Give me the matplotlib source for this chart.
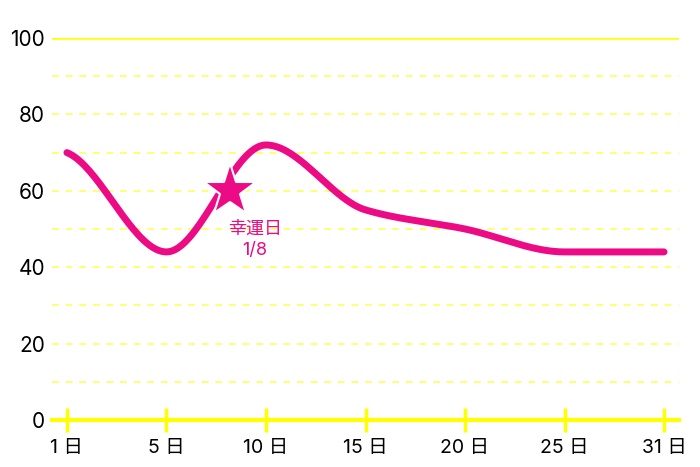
import numpy as np
import matplotlib
matplotlib.use("Agg")
import matplotlib.pyplot as plt

plt.rcParams['font.family'] = ['Inter', 'Noto Sans CJK JP', 'DejaVu Sans']

days = ["1 日", "5 日", "10 日", "15 日", "20 日", "25 日", "31 日"]
values = [70, 44, 72, 55, 50, 44, 44]
lucky_pos = 1.64   # 8日 between 5日 and 10日
lucky_value = 60
lucky_label = "幸運日\n1/8"

PINK = "#ec0a85"
YELLOW = "#ffff00"
GRID = "#ffff70"


def monotone(x, y, n=40):
    # Fritsch-Carlson monotone cubic, only for drawing the smooth line
    x = np.asarray(x, float)
    y = np.asarray(y, float)
    h = np.diff(x)
    d = np.diff(y) / h
    m = np.zeros_like(y)
    m[0], m[-1] = d[0] * 0.4, d[-1]
    for i in range(1, len(y) - 1):
        if d[i - 1] * d[i] <= 0:
            m[i] = 0
        else:
            m[i] = 3 * (h[i - 1] + h[i]) / ((2 * h[i] + h[i - 1]) / d[i - 1] + (h[i] + 2 * h[i - 1]) / d[i])
    xs, ys = [], []
    for i in range(len(x) - 1):
        t = np.linspace(0, 1, n)
        h00 = 2 * t**3 - 3 * t**2 + 1
        h10 = t**3 - 2 * t**2 + t
        h01 = -2 * t**3 + 3 * t**2
        h11 = t**3 - t**2
        xs.append(x[i] + t * h[i])
        ys.append(h00 * y[i] + h10 * h[i] * m[i] + h01 * y[i + 1] + h11 * h[i] * m[i + 1])
    return np.concatenate(xs), np.concatenate(ys)


fig = plt.figure(figsize=(7, 4.67), dpi=100)
ax = fig.add_axes([52 / 700, 1 - 420 / 467, (679 - 52) / 700, (420 - 38) / 467])

xpos = np.arange(len(days))
ax.set_xlim(-0.15, len(days) - 1 + 0.15)
ax.set_ylim(0, 100)

for v in range(10, 100, 10):
    ax.axhline(v, color=GRID, lw=1.4, ls=(0, (3.5, 3.5)), zorder=1)
ax.axhline(100, color=YELLOW, lw=1.8, zorder=1)

sx, sy = monotone(xpos, values)
ax.plot(sx, sy, color=PINK, lw=5, solid_capstyle='round', zorder=3)

ax.plot([lucky_pos], [lucky_value], marker='*', ms=40, color=PINK,
        mec='white', mew=1.5, zorder=4)
ax.text(lucky_pos + 0.25, lucky_value - 12.8, lucky_label, color=PINK,
        fontsize=13, ha='center', va='center', linespacing=1.3, zorder=4)

for s in ['top', 'right', 'left']:
    ax.spines[s].set_visible(False)
ax.spines['bottom'].set_color(YELLOW)
ax.spines['bottom'].set_linewidth(3)
ax.spines['bottom'].set_zorder(2)

ax.set_xticks(xpos)
ax.set_xticklabels(days, fontsize=14)
ax.tick_params(axis='x', direction='inout', length=17, width=2.5, color=YELLOW, pad=5)
ax.set_yticks(range(0, 101, 20))
ax.tick_params(axis='y', length=0, labelsize=15, pad=5)

fig.savefig("out.png", dpi=100, facecolor='white')
